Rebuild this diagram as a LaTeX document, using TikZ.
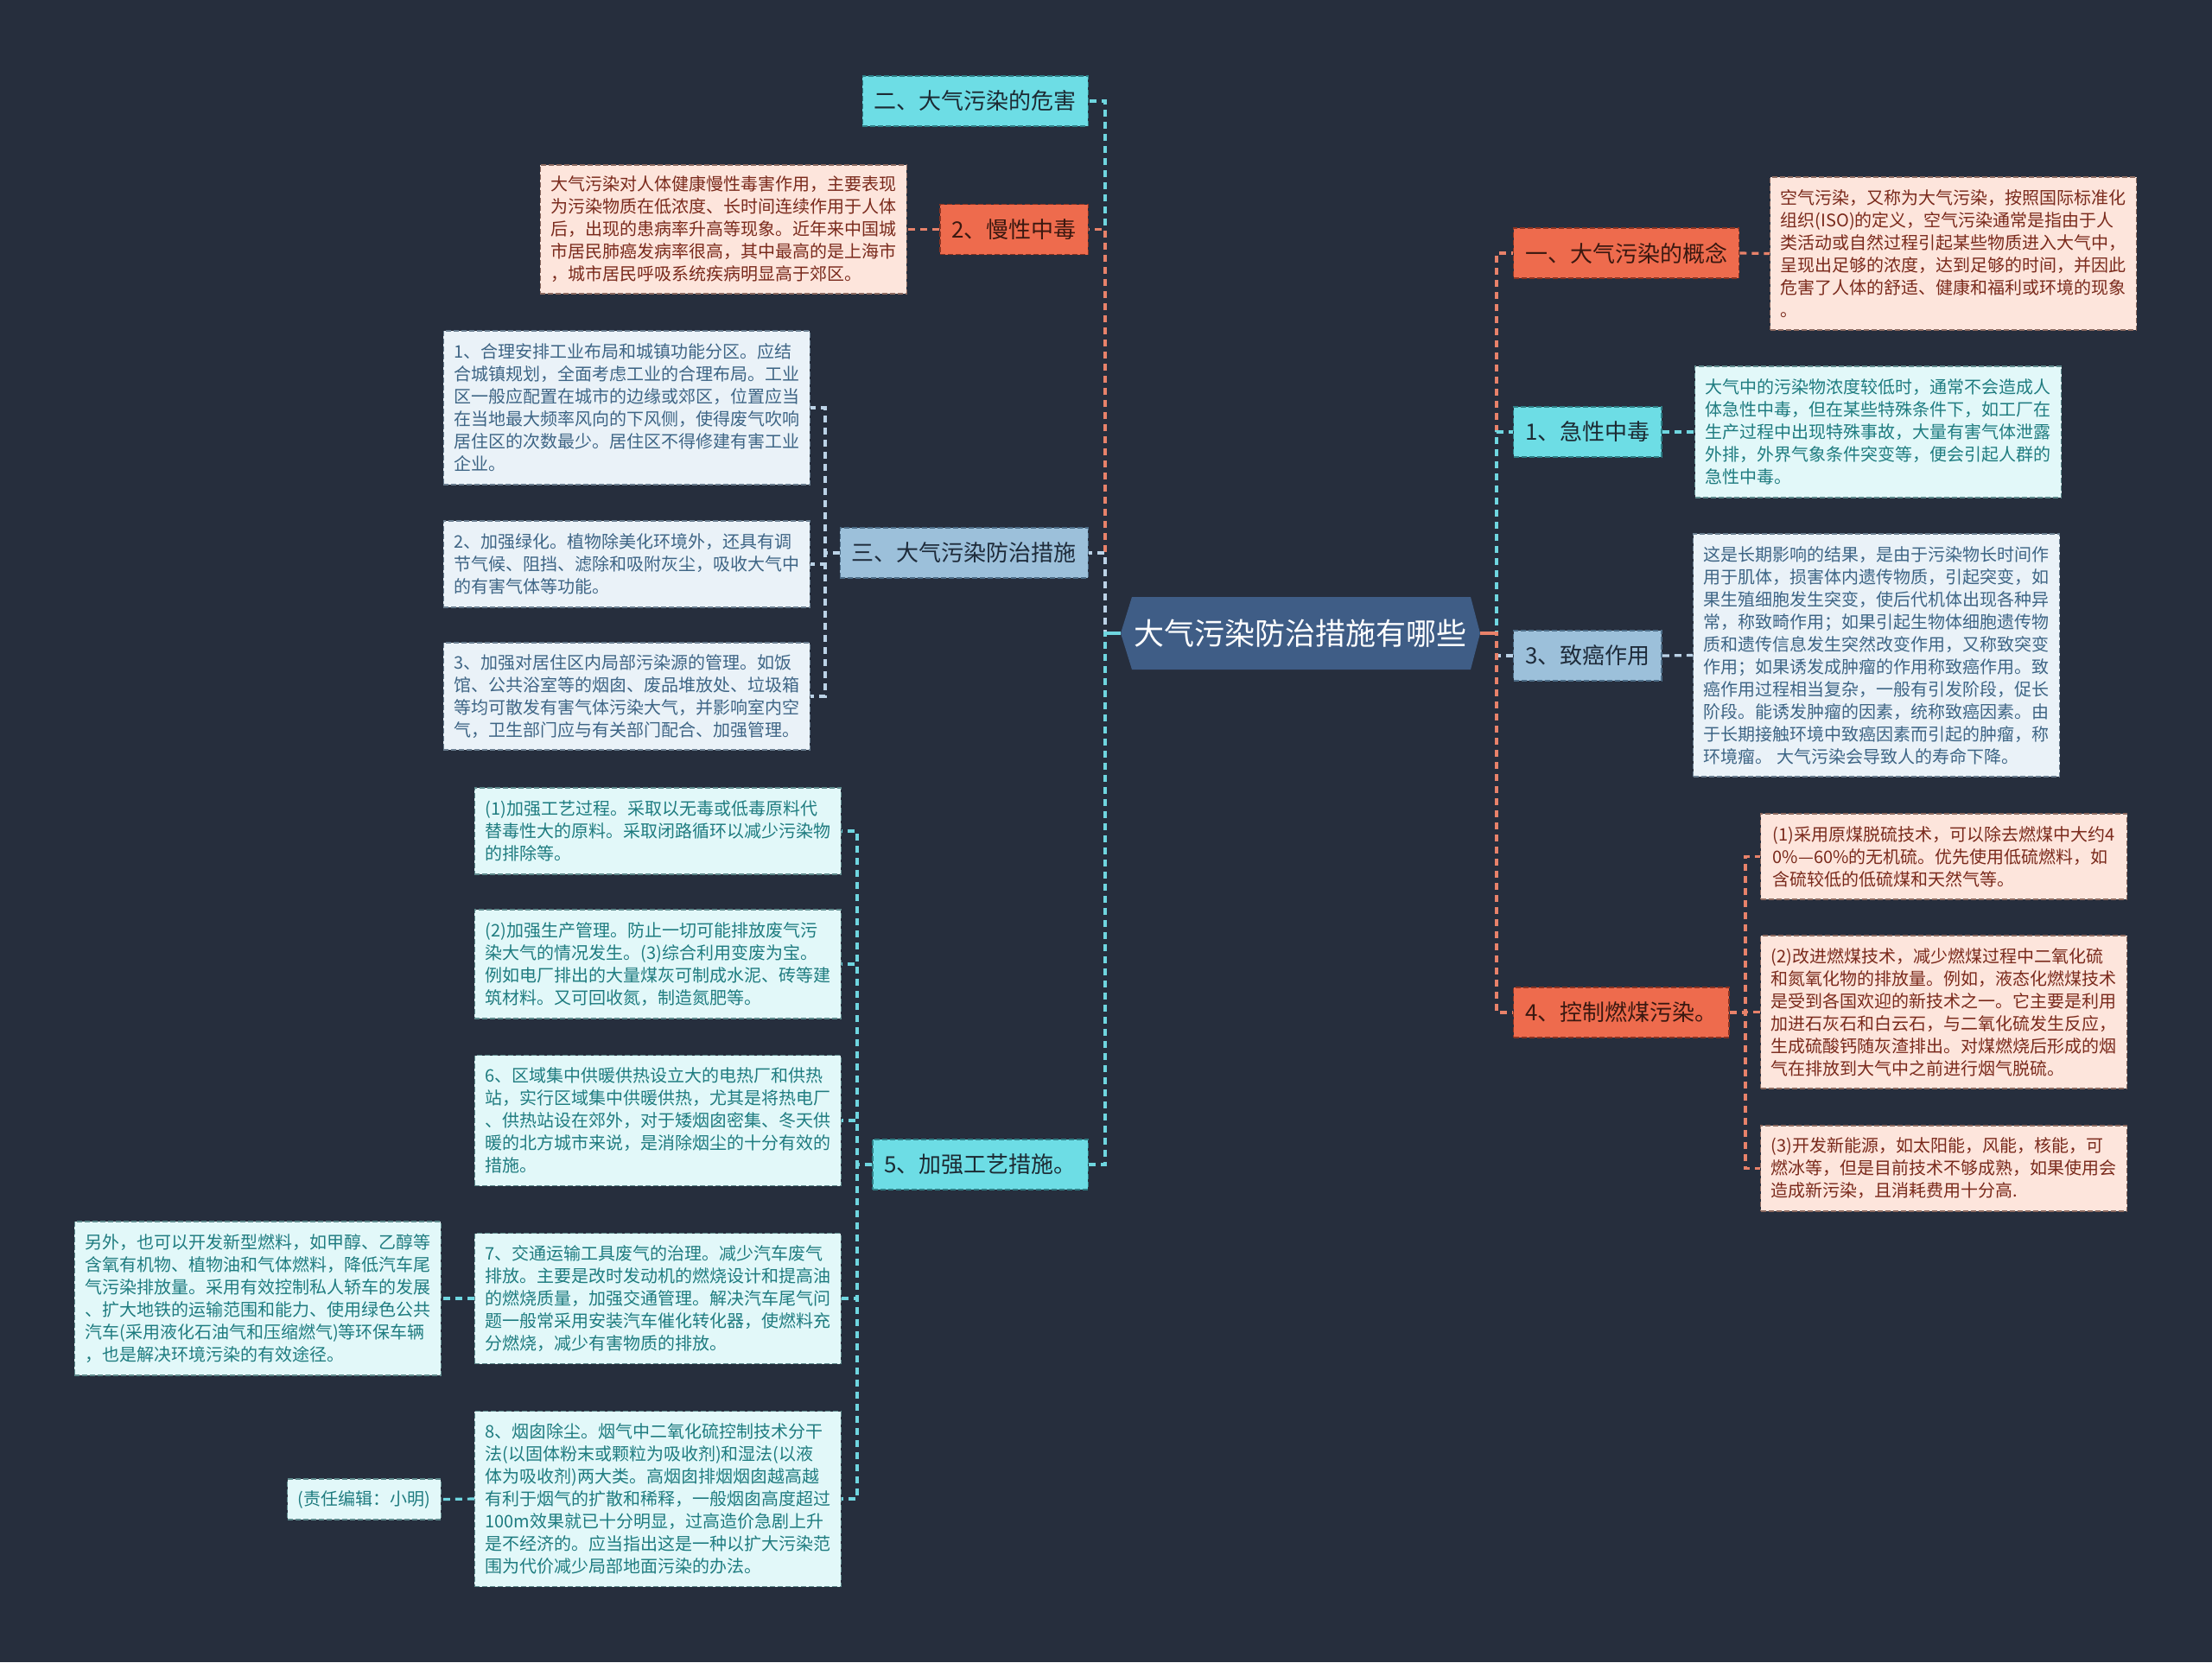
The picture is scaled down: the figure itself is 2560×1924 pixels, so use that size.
\documentclass[tikz,border=0pt]{standalone}
\usepackage{fontspec}
\setmainfont{Noto Sans CJK SC}
\definecolor{bg}{HTML}{262E3D}
\definecolor{cfill}{HTML}{3F5D86}
\definecolor{oF}{HTML}{EE6B4D}
\definecolor{oB}{HTML}{8A3322}
\definecolor{oT}{HTML}{3A1810}
\definecolor{cF}{HTML}{6DDDE5}
\definecolor{cB}{HTML}{2F7F86}
\definecolor{cT}{HTML}{1C2A33}
\definecolor{sF}{HTML}{9CC0DA}
\definecolor{sB}{HTML}{4E6E88}
\definecolor{sT}{HTML}{1E2B3A}
\definecolor{pF}{HTML}{FDE5DC}
\definecolor{pB}{HTML}{8C6A60}
\definecolor{pT}{HTML}{7A2A1C}
\definecolor{qF}{HTML}{E2F8F9}
\definecolor{qB}{HTML}{5E8A8C}
\definecolor{qT}{HTML}{1F7C80}
\definecolor{wF}{HTML}{EAF2F8}
\definecolor{wB}{HTML}{6A7E90}
\definecolor{wT}{HTML}{3E6585}
\definecolor{lO}{HTML}{E8826A}
\definecolor{lC}{HTML}{6FD6E0}
\definecolor{lS}{HTML}{BCD3E7}
\tikzset{
  br/.style={minimum height=29pt, inner xsep=6.75pt, inner ysep=0pt,
    font=\fontsize{13pt}{15pt}\selectfont, draw, line width=0.7pt,
    dash pattern=on 3pt off 1.5pt},
  brO/.style={br, fill=oF, draw=oB, text=oT},
  brC/.style={br, fill=cF, draw=cB, text=cT},
  brS/.style={br, fill=sF, draw=sB, text=sT},
  det/.style={minimum width=212pt, inner xsep=6pt, inner ysep=3pt, align=left,
    font=\fontsize{10pt}{13pt}\selectfont, draw, line width=0.6pt,
    dash pattern=on 3pt off 1.5pt},
  detP/.style={det, fill=pF, draw=pB, text=pT},
  detC/.style={det, fill=qF, draw=qB, text=qT},
  detS/.style={det, fill=wF, draw=wB, text=wT},
  link/.style={line width=1.6pt, dash pattern=on 4pt off 3pt},
  linkO/.style={link, draw=lO},
  linkC/.style={link, draw=lC},
  linkS/.style={link, draw=lS},
  stub/.style={line width=1.6pt}
}
\begin{document}
\begin{tikzpicture}[x=0.5pt, y=-0.5pt]
\useasboundingbox (0,0) rectangle (2560,1924);
\fill[bg] (0,0) rectangle (2560,1924);

% center
\fill[cfill] (1297,733) -- (1310,691) -- (1702,691) -- (1713,733) -- (1702,775) -- (1310,775) -- cycle;
\node[text=white, font=\fontsize{17.5pt}{20pt}\selectfont, inner sep=0pt] (center) at (1505,733) {大气污染防治措施有哪些};
\coordinate (cL) at (1297,733);
\coordinate (cR) at (1713,733);
\coordinate (tl) at (1279,733);
\coordinate (tr) at (1732,733);

% left branches
\node[brC, anchor=east] (b2) at (1260,117) {二、大气污染的危害};
\node[brO, anchor=east] (b2a) at (1260,265.5) {2、慢性中毒};
\node[brS, anchor=east] (b3) at (1260,640) {三、大气污染防治措施};
\node[brC, anchor=east] (b5) at (1260,1348) {5、加强工艺措施。};

\node[detP, anchor=east, minimum height=74.5pt] (d2a) at (1050,265.5) {大气污染对人体健康慢性毒害作用，主要表现\\为污染物质在低浓度、长时间连续作用于人体\\后，出现的患病率升高等现象。近年来中国城\\市居民肺癌发病率很高，其中最高的是上海市\\，城市居民呼吸系统疾病明显高于郊区。};

\node[detS, anchor=east, minimum height=89pt] (d3a) at (938,472) {1、合理安排工业布局和城镇功能分区。应结\\合城镇规划，全面考虑工业的合理布局。工业\\区一般应配置在城市的边缘或郊区，位置应当\\在当地最大频率风向的下风侧，使得废气吹响\\居住区的次数最少。居住区不得修建有害工业\\企业。};
\node[detS, anchor=east, minimum height=50pt] (d3b) at (938,653) {2、加强绿化。植物除美化环境外，还具有调\\节气候、阻挡、滤除和吸附灰尘，吸收大气中\\的有害气体等功能。};
\node[detS, anchor=east, minimum height=62pt] (d3c) at (938,806) {3、加强对居住区内局部污染源的管理。如饭\\馆、公共浴室等的烟囱、废品堆放处、垃圾箱\\等均可散发有害气体污染大气，并影响室内空\\气，卫生部门应与有关部门配合、加强管理。};

\node[detC, anchor=east, minimum height=50pt] (d5a) at (974,962) {(1)加强工艺过程。采取以无毒或低毒原料代\\替毒性大的原料。采取闭路循环以减少污染物\\的排除等。};
\node[detC, anchor=east, minimum height=63pt] (d5b) at (974,1116) {(2)加强生产管理。防止一切可能排放废气污\\染大气的情况发生。(3)综合利用变废为宝。\\例如电厂排出的大量煤灰可制成水泥、砖等建\\筑材料。又可回收氮，制造氮肥等。};
\node[detC, anchor=east, minimum height=75.5pt] (d5c) at (974,1297) {6、区域集中供暖供热设立大的电热厂和供热\\站，实行区域集中供暖供热，尤其是将热电厂\\、供热站设在郊外，对于矮烟囱密集、冬天供\\暖的北方城市来说，是消除烟尘的十分有效的\\措施。};
\node[detC, anchor=east, minimum height=75.5pt] (d5d) at (974,1503) {7、交通运输工具废气的治理。减少汽车废气\\排放。主要是改时发动机的燃烧设计和提高油\\的燃烧质量，加强交通管理。解决汽车尾气问\\题一般常采用安装汽车催化转化器，使燃料充\\分燃烧，减少有害物质的排放。};
\node[detC, anchor=east, minimum height=101.5pt] (d5e) at (974,1735) {8、烟囱除尘。烟气中二氧化硫控制技术分干\\法(以固体粉末或颗粒为吸收剂)和湿法(以液\\体为吸收剂)两大类。高烟囱排烟烟囱越高越\\有利于烟气的扩散和稀释，一般烟囱高度超过\\100m效果就已十分明显，过高造价急剧上升\\是不经济的。应当指出这是一种以扩大污染范\\围为代价减少局部地面污染的办法。};
\node[detC, anchor=east, minimum height=89pt] (d5f) at (511,1503) {另外，也可以开发新型燃料，如甲醇、乙醇等\\含氧有机物、植物油和气体燃料，降低汽车尾\\气污染排放量。采用有效控制私人轿车的发展\\、扩大地铁的运输范围和能力、使用绿色公共\\汽车(采用液化石油气和压缩燃气)等环保车辆\\，也是解决环境污染的有效途径。};
\node[detC, anchor=east, minimum height=23.5pt, minimum width=0pt] (d5g) at (511,1735.5) {(责任编辑：小明)};

% right branches
\node[brO, anchor=west] (r1) at (1751,293) {一、大气污染的概念};
\node[brC, anchor=west] (r2) at (1751,500) {1、急性中毒};
\node[brS, anchor=west] (r3) at (1751,759) {3、致癌作用};
\node[brO, anchor=west] (r4) at (1751,1172) {4、控制燃煤污染。};

\node[detP, anchor=west, minimum height=88.5pt] (r1d) at (2048,293.5) {空气污染，又称为大气污染，按照国际标准化\\组织(ISO)的定义，空气污染通常是指由于人\\类活动或自然过程引起某些物质进入大气中，\\呈现出足够的浓度，达到足够的时间，并因此\\危害了人体的舒适、健康和福利或环境的现象\\。};
\node[detC, anchor=west, minimum height=76pt] (r2d) at (1961,500) {大气中的污染物浓度较低时，通常不会造成人\\体急性中毒，但在某些特殊条件下，如工厂在\\生产过程中出现特殊事故，大量有害气体泄露\\外排，外界气象条件突变等，便会引起人群的\\急性中毒。};
\node[detS, anchor=west, minimum height=140.5pt] (r3d) at (1959,758.5) {这是长期影响的结果，是由于污染物长时间作\\用于肌体，损害体内遗传物质，引起突变，如\\果生殖细胞发生突变，使后代机体出现各种异\\常，称致畸作用；如果引起生物体细胞遗传物\\质和遗传信息发生突然改变作用，又称致突变\\作用；如果诱发成肿瘤的作用称致癌作用。致\\癌作用过程相当复杂，一般有引发阶段，促长\\阶段。能诱发肿瘤的因素，统称致癌因素。由\\于长期接触环境中致癌因素而引起的肿瘤，称\\环境瘤。 大气污染会导致人的寿命下降。};
\node[detP, anchor=west, minimum height=49.5pt] (r4a) at (2037,991.5) {(1)采用原煤脱硫技术，可以除去燃煤中大约4\\0\%—60\%的无机硫。优先使用低硫燃料，如\\含硫较低的低硫煤和天然气等。};
\node[detP, anchor=west, minimum height=88.5pt] (r4b) at (2037,1171.5) {(2)改进燃煤技术，减少燃煤过程中二氧化硫\\和氮氧化物的排放量。例如，液态化燃煤技术\\是受到各国欢迎的新技术之一。它主要是利用\\加进石灰石和白云石，与二氧化硫发生反应，\\生成硫酸钙随灰渣排出。对煤燃烧后形成的烟\\气在排放到大气中之前进行烟气脱硫。};
\node[detP, anchor=west, minimum height=49.5pt] (r4c) at (2037,1352.5) {(3)开发新能源，如太阳能，风能，核能，可\\燃冰等，但是目前技术不够成熟，如果使用会\\造成新污染，且消耗费用十分高.};

% trunk connectors
\draw[linkC] (cL) -- (tl) |- (b2.east);
\draw[linkO] (cL) -- (tl) |- (b2a.east);
\draw[linkS] (cL) -- (tl) |- (b3.east);
\draw[linkC] (cL) -- (tl) |- (b5.east);
\draw[stub, lC] (cL) -- (tl);
\draw[linkO] (cR) -- (tr) |- (r1.west);
\draw[linkC] (cR) -- (tr) |- (r2.west);
\draw[linkS] (cR) -- (tr) |- (r3.west);
\draw[linkO] (cR) -- (tr) |- (r4.west);
\draw[stub, lO] (cR) -- (tr);

% brackets
\coordinate (k3) at (955,640);
\coordinate (k5) at (992,1348);
\coordinate (k4) at (2020,1172);
\foreach \t in {d3a,d3b,d3c} \draw[linkS] (b3.west) -- (k3) |- (\t.east);
\foreach \t in {d5a,d5b,d5c,d5d,d5e} \draw[linkC] (b5.west) -- (k5) |- (\t.east);
\foreach \t in {r4a,r4b,r4c} \draw[linkO] (r4.east) -- (k4) |- (\t.west);

% single links
\draw[linkO] (b2a.west) -- (d2a.east);
\draw[linkC] (d5d.west) -- (d5f.east);
\draw[linkC] (d5e.west) -- (d5g.east);
\draw[linkO] (r1.east) -- (r1d.west);
\draw[linkC] (r2.east) -- (r2d.west);
\draw[linkS] (r3.east) -- (r3d.west);
\end{tikzpicture}
\end{document}
